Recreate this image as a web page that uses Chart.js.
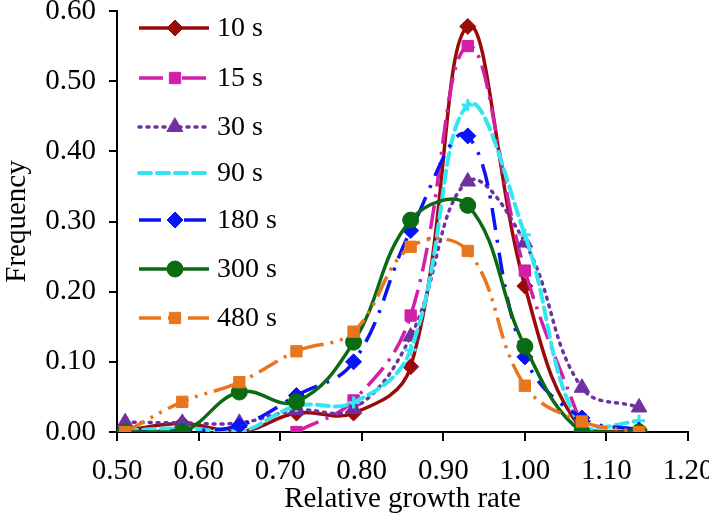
<!DOCTYPE html>
<html>
<head>
<meta charset="utf-8">
<script src="https://cdn.jsdelivr.net/npm/chart.js@4.4.1/dist/chart.umd.min.js"></script>
<style>
  html, body { margin: 0; padding: 0; background: #fff; }
  #wrap { width: 709px; height: 521px; }
</style>
</head>
<body>
<div id="wrap"><canvas id="chart" width="709" height="521"></canvas></div>
<script>
// Relative growth rate bins (x values)
const rates = [0.51, 0.58, 0.65, 0.72, 0.79, 0.86, 0.93, 1.00, 1.07, 1.14];

// Frequency per exposure time
const s10 = [0.002, 0.012, 0.0, 0.027, 0.027, 0.093, 0.578, 0.208, 0.003, 0.0];
const s15 = [null, null, null, 0.0, 0.045, 0.166, 0.55, 0.23, 0.008, null];
const s30 = [0.014, 0.013, 0.013, 0.031, 0.033, 0.136, 0.357, 0.27, 0.063, 0.035];
const s90 = [0.002, 0.005, 0.0, 0.037, 0.042, 0.117, 0.466, 0.281, 0.005, 0.016];
const s180 = [0.0, 0.002, 0.009, 0.052, 0.1, 0.287, 0.422, 0.107, 0.02, 0.003];
const s300 = [0.0, 0.0, 0.057, 0.043, 0.128, 0.302, 0.323, 0.122, 0.0, 0.0];
const s480 = [0.0, 0.043, 0.071, 0.115, 0.143, 0.264, 0.258, 0.066, 0.015, 0.0];

const seriesLabels = ["10 s", "15 s", "30 s", "90 s", "180 s", "300 s", "480 s"];
const xTicks = [0.5, 0.6, 0.7, 0.8, 0.9, 1.0, 1.1, 1.2];

const FONT = "'Liberation Serif', 'Times New Roman', serif";

function pts(values) {
  return values.map((v, i) => ({ x: rates[i], y: v }));
}

const styles = [
  { color: "#9B0A0A", dash: [], point: "rectRot", radius: 8, width: 3.5 },
  { color: "#D21FA8", dash: [24, 8, 3, 8], point: "rect", radius: 8, width: 3.5 },
  { color: "#7030A0", dash: [2, 6], point: "triangle", radius: 9, width: 3.5 },
  { color: "#33E6F2", dash: [12, 6], point: "cross", radius: 6, width: 4 },
  { color: "#0A14F0", dash: [22, 10, 3, 10], point: "rectRot", radius: 8, width: 3.5 },
  { color: "#0B6B12", dash: [], point: "circle", radius: 8, width: 3.5 },
  { color: "#E8761E", dash: [22, 7, 3, 7, 3, 7], point: "rect", radius: 8, width: 3.5 },
];

const allSeries = [s10, s15, s30, s90, s180, s300, s480];

const datasets = allSeries.map((s, i) => ({
  label: seriesLabels[i],
  data: pts(s),
  borderColor: styles[i].color,
  backgroundColor: styles[i].color,
  borderWidth: styles[i].width,
  borderDash: styles[i].dash,
  borderCapStyle: styles[i].dash.length === 2 ? "round" : "butt",
  pointStyle: styles[i].point,
  pointRadius: styles[i].radius,
  pointBorderWidth: styles[i].point === "cross" ? 3 : 1,
  pointBorderColor: styles[i].color,
  tension: 0.4,
  spanGaps: false,
  order: 7 - i,
}));

// Legend drawn inside the plot, top-left, like the original figure
const insideLegend = {
  id: "insideLegend",
  afterDraw(chart) {
    const ctx = chart.ctx;
    const x0 = 139, x1 = 209, xm = 175, xt = 217;
    const rows = [28, 78, 127, 173, 220, 269, 318];
    ctx.save();
    styles.forEach((st, i) => {
      const y = rows[i];
      ctx.strokeStyle = st.color;
      ctx.lineWidth = st.width;
      ctx.setLineDash(st.dash);
      ctx.lineCap = st.dash.length === 2 ? "round" : "butt";
      ctx.beginPath();
      ctx.moveTo(x0, y);
      ctx.lineTo(x1, y);
      ctx.stroke();
      ctx.setLineDash([]);
      if (st.point !== "cross") {
        ctx.fillStyle = st.color;
        ctx.strokeStyle = st.color;
        ctx.lineWidth = 1;
        Chart.helpers.drawPoint(ctx, { pointStyle: st.point, radius: st.radius, borderWidth: 1, rotation: 0 }, xm, y);
      }
      ctx.fillStyle = "#000";
      ctx.font = "28px " + FONT;
      ctx.textBaseline = "middle";
      ctx.textAlign = "left";
      ctx.fillText(seriesLabels[i], xt, y + 1);
    });
    ctx.restore();
  },
};

new Chart(document.getElementById("chart").getContext("2d"), {
  type: "line",
  data: { datasets: datasets },
  options: {
    responsive: false,
    animation: false,
    layout: { padding: { left: 0, right: 0, top: 11, bottom: 0 } },
    plugins: {
      legend: { display: false },
      tooltip: { enabled: false },
    },
    scales: {
      x: {
        type: "linear",
        min: 0.5,
        max: 1.2,
        afterBuildTicks: (axis) => {
          axis.ticks = xTicks.map((v) => ({ value: v }));
        },
        afterFit: (scale) => {
          scale.height = 89;
          scale.paddingLeft = 0;
          scale.paddingRight = 21;
        },
        ticks: {
          color: "#000",
          font: { family: FONT, size: 29 },
          padding: 13,
          maxRotation: 0,
          callback: (v) => Number(v).toFixed(2),
        },
        grid: {
          display: true,
          drawOnChartArea: false,
          drawTicks: true,
          tickLength: 9,
          color: "#000",
          lineWidth: 2,
        },
        border: { color: "#000", width: 2 },
        title: {
          display: true,
          text: "Relative growth rate",
          color: "#000",
          font: { family: FONT, size: 29 },
          padding: { top: 2, bottom: 4 },
        },
      },
      y: {
        min: 0,
        max: 0.6,
        afterFit: (scale) => {
          scale.width = 117;
          scale.paddingTop = 0;
          scale.paddingBottom = 0;
        },
        ticks: {
          stepSize: 0.1,
          color: "#000",
          font: { family: FONT, size: 29 },
          padding: 13,
          callback: (v) => Number(v).toFixed(2),
        },
        grid: {
          display: true,
          drawOnChartArea: false,
          drawTicks: true,
          tickLength: 8,
          color: "#000",
          lineWidth: 2,
        },
        border: { color: "#000", width: 2 },
        title: {
          display: true,
          text: "Frequency",
          color: "#000",
          font: { family: FONT, size: 29, lineHeight: 1.0 },
          padding: { top: 3, bottom: 0 },
        },
      },
    },
  },
  plugins: [insideLegend],
});
</script>
</body>
</html>
